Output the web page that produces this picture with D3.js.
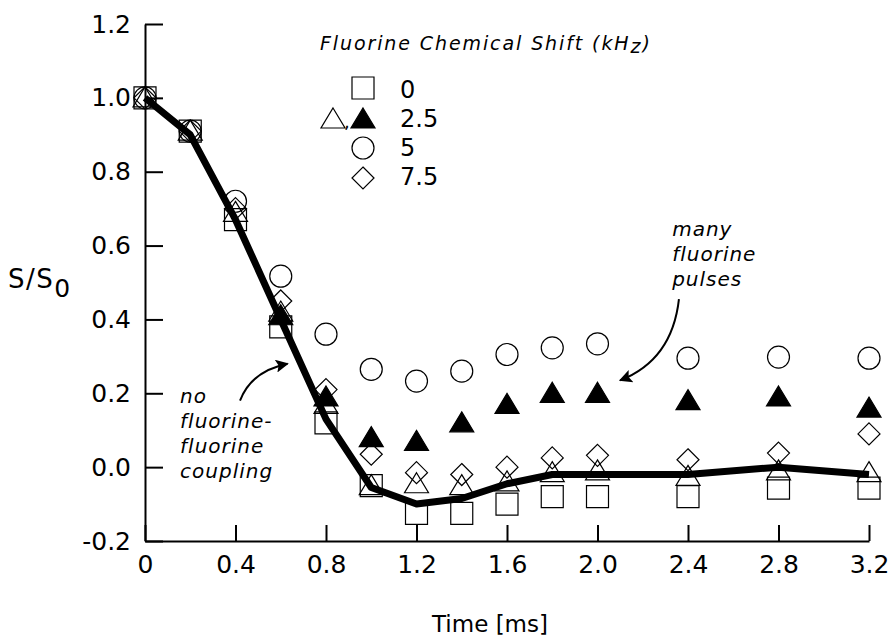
<!DOCTYPE html>
<html>
<head>
<meta charset="utf-8">
<script src="https://cdn.jsdelivr.net/npm/d3@7"></script>
<style>
  body { margin: 0; background: #fff; }
  text { font-family: "DejaVu Sans", sans-serif; fill: #000; }
  .note { font-style: italic; }
</style>
</head>
<body>
<script>
// time points (ms)
const times = [0, 0.2, 0.4, 0.6, 0.8, 1.0, 1.2, 1.4, 1.6, 1.8, 2.0, 2.4, 2.8, 3.2];

// S/S0 per fluorine chemical shift
const shift0 = [1.0, 0.91, 0.67, 0.38, 0.12, -0.05, -0.125, -0.125, -0.10, -0.08, -0.08, -0.08, -0.057, -0.057];
const shift25open = [1.0, 0.91, 0.69, 0.42, 0.17, -0.05, -0.045, -0.05, -0.04, -0.015, -0.01, -0.025, -0.01, -0.015];
const shift25filled = [null, null, null, 0.41, 0.19, 0.08, 0.07, 0.12, 0.17, 0.20, 0.20, 0.18, 0.19, 0.16];
const shift5 = [1.0, 0.91, 0.72, 0.517, 0.36, 0.265, 0.233, 0.26, 0.305, 0.323, 0.334, 0.295, 0.298, 0.295];
const shift75 = [1.0, 0.91, 0.70, 0.45, 0.21, 0.035, -0.015, -0.02, 0.0, 0.025, 0.032, 0.02, 0.038, 0.09];

// calculation without fluorine-fluorine coupling
const noCoupling = [1.0, 0.9, 0.67, 0.40, 0.13, -0.055, -0.10, -0.085, -0.045, -0.02, -0.02, -0.02, 0.0, -0.02];

const xTicks = [0, 0.4, 0.8, 1.2, 1.6, 2.0, 2.4, 2.8, 3.2];
const yTicks = [-0.2, 0.0, 0.2, 0.4, 0.6, 0.8, 1.0, 1.2];

const legendLabels = ['0', '2.5', '5', '7.5'];

const width = 889, height = 637;

const svg = d3.select('body').append('svg')
  .attr('width', width)
  .attr('height', height);

const x = d3.scaleLinear().domain([0, 3.2]).range([145, 869]);
const y = d3.scaleLinear().domain([-0.2, 1.2]).range([541, 24]);

// axes, ticks pointing inward
const yAxis = d3.axisLeft(y)
  .tickValues(yTicks)
  .tickSizeInner(-18)
  .tickSizeOuter(0)
  .tickPadding(14)
  .tickFormat(d => d3.format('.1f')(d).replace('−', '-'));

const xAxis = d3.axisBottom(x)
  .tickValues(xTicks)
  .tickSizeInner(-16)
  .tickSizeOuter(0)
  .tickPadding(14)
  .tickFormat(d => d === 0 ? '0' : d.toFixed(1));

function styleAxis(g) {
  g.selectAll('path, line').attr('stroke', '#000').attr('stroke-width', 2);
  g.selectAll('text').style('font-size', '25px').attr('fill', '#000');
}

svg.append('g')
  .attr('transform', `translate(${x(0)},0)`)
  .call(yAxis)
  .call(styleAxis);

svg.append('g')
  .attr('transform', `translate(0,${y(-0.2)})`)
  .call(xAxis)
  .call(styleAxis);

// axis titles
const yTitle = svg.append('text')
  .attr('x', 8)
  .attr('y', 288)
  .style('font-size', '26px')
  .style('letter-spacing', '1.5px');
yTitle.append('tspan').text('S/S');
yTitle.append('tspan').attr('dy', 9).style('font-size', '25px').text('0');

svg.append('text')
  .attr('x', 490)
  .attr('y', 632)
  .attr('text-anchor', 'middle')
  .style('font-size', '23px')
  .text('Time [ms]');

// thick calculated line
const line = d3.line()
  .x((d, i) => x(times[i]))
  .y(d => y(d));

svg.append('path')
  .datum(noCoupling)
  .attr('d', line)
  .attr('fill', 'none')
  .attr('stroke', '#000')
  .attr('stroke-width', 7)
  .attr('stroke-linejoin', 'round');

// marker shapes
const sqSize = 22;
const symbols = {
  square: d3.symbol().type(d3.symbolSquare).size(sqSize * sqSize),
  circle: d3.symbol().type(d3.symbolCircle).size(Math.PI * 11 * 11),
  triangle: () => 'M0,-11L12,9L-12,9Z',
  diamond: () => 'M0,-11L11,0L0,11L-11,0Z'
};

function drawSeries(values, shape, filled) {
  svg.append('g')
    .selectAll('path')
    .data(values.map((v, i) => [times[i], v]).filter(d => d[1] !== null))
    .enter().append('path')
    .attr('transform', d => `translate(${x(d[0])},${y(d[1])})`)
    .attr('d', symbols[shape])
    .attr('fill', filled ? '#000' : 'none')
    .attr('stroke', '#000')
    .attr('stroke-width', 1.2);
}

drawSeries(shift0, 'square', false);
drawSeries(shift5, 'circle', false);
drawSeries(shift75, 'diamond', false);
drawSeries(shift25open, 'triangle', false);
drawSeries(shift25filled, 'triangle', true);

// legend
const legend = svg.append('g');
const lt = legend.append('text')
  .attr('x', 320)
  .attr('y', 50)
  .attr('class', 'note')
  .style('font-size', '19px')
  .style('letter-spacing', '1.9px');
lt.append('tspan').text('Fluorine Chemical Shift (kH');
lt.append('tspan').attr('dy', 3).text('z');
lt.append('tspan').attr('dy', -3).text(')');

const legendRows = [
  {shape: 'square', cy: 88, base: 98},
  {shape: 'triangle', cy: 119, base: 127},
  {shape: 'circle', cy: 148, base: 156},
  {shape: 'diamond', cy: 178, base: 185}
];

legendRows.forEach((r, i) => {
  legend.append('path')
    .attr('transform', `translate(363,${r.cy})`)
    .attr('d', symbols[r.shape])
    .attr('fill', r.shape === 'triangle' ? '#000' : 'none')
    .attr('stroke', '#000')
    .attr('stroke-width', 1.2);
  legend.append('text')
    .attr('x', 400)
    .attr('y', r.base)
    .style('font-size', '24px')
    .text(legendLabels[i]);
});
legend.append('path')
  .attr('transform', 'translate(333,119)')
  .attr('d', symbols.triangle)
  .attr('fill', 'none')
  .attr('stroke', '#000')
  .attr('stroke-width', 1.2);
legend.append('text')
  .attr('x', 344)
  .attr('y', 128)
  .style('font-size', '18px')
  .text(',');

// annotations (positions in data units)
svg.append('defs').append('marker')
  .attr('id', 'head')
  .attr('viewBox', '0 0 10 10')
  .attr('refX', 9).attr('refY', 5)
  .attr('markerUnits', 'userSpaceOnUse')
  .attr('orient', 'auto')
  .attr('markerWidth', 18).attr('markerHeight', 13)
  .append('path')
  .attr('d', 'M0,0L10,5L0,10L2,5Z')
  .attr('fill', '#000');

const notes = [
  {lines: ['no', 'fluorine-', 'fluorine', 'coupling'], t: 0.155, v: 0.173},
  {lines: ['many', 'fluorine', 'pulses'], t: 2.33, v: 0.626}
];
notes.forEach(n => {
  const txt = svg.append('text')
    .attr('class', 'note')
    .attr('x', x(n.t))
    .attr('y', y(n.v))
    .style('font-size', '20px')
    .style('letter-spacing', '1px');
  n.lines.forEach((l, i) => {
    txt.append('tspan')
      .attr('x', x(n.t))
      .attr('dy', i === 0 ? 0 : 25)
      .text(l);
  });
});

const arrows = [
  {from: [0.42, 0.18], ctrl: [0.47, 0.26], to: [0.63, 0.28]},
  {from: [2.36, 0.455], ctrl: [2.33, 0.29], to: [2.10, 0.235]}
];
arrows.forEach(a => {
  const p = d3.path();
  p.moveTo(x(a.from[0]), y(a.from[1]));
  p.quadraticCurveTo(x(a.ctrl[0]), y(a.ctrl[1]), x(a.to[0]), y(a.to[1]));
  svg.append('path')
    .attr('d', p.toString())
    .attr('fill', 'none')
    .attr('stroke', '#000')
    .attr('stroke-width', 2)
    .attr('marker-end', 'url(#head)');
});
</script>
</body>
</html>
